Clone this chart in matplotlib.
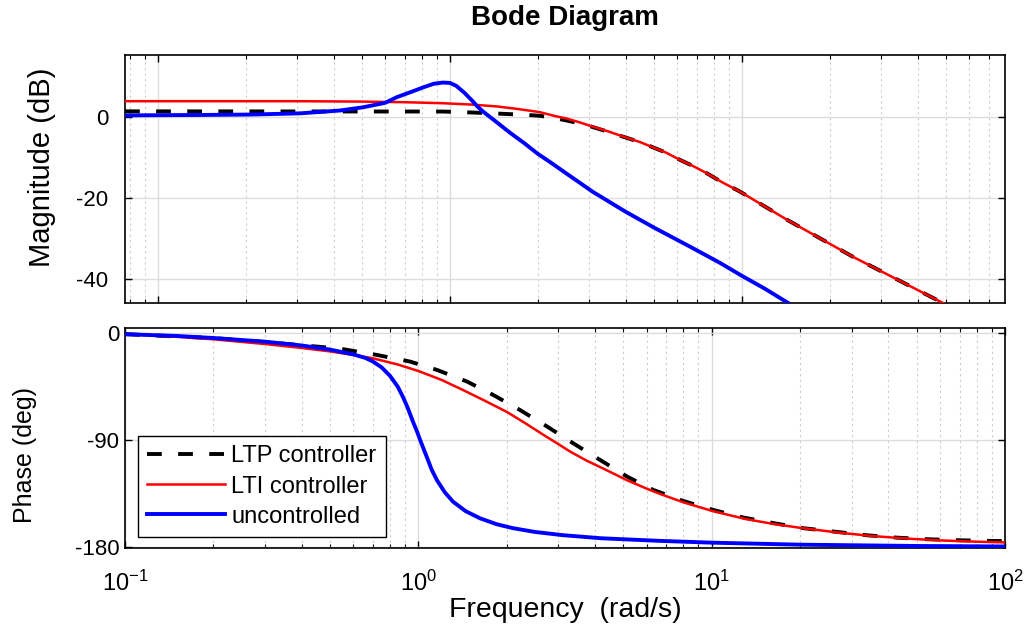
import numpy as np
import matplotlib
matplotlib.use("Agg")
import matplotlib.pyplot as plt

plt.rcParams['font.family'] = ['Liberation Sans', 'DejaVu Sans']
plt.rcParams['axes.unicode_minus'] = False
plt.rcParams['mathtext.fontset'] = 'custom'
plt.rcParams['mathtext.rm'] = 'Liberation Sans'

# magnitude (dB) vs frequency (rad/s)
w_mag_unc = [0.0771, 0.139, 0.2065, 0.306, 0.42, 0.504, 0.6, 0.658, 0.75, 0.809, 0.88,
             0.946, 1.0, 1.05, 1.12, 1.2, 1.237, 1.3, 1.4, 1.5, 1.6, 1.8, 2.0, 2.2,
             2.5, 3.09, 4.0, 5.0, 6.64, 8.41, 10.0, 12.0, 14.4]
mag_unc = [0.3, 0.4, 0.5, 0.8, 1.5, 2.3, 3.4, 4.8, 6.3, 7.2, 8.1,
           8.4, 8.3, 7.6, 5.9, 3.7, 2.6, 1.2, -0.6, -2.3, -3.9, -6.6, -9.2, -11.2,
           -14.0, -18.6, -23.5, -27.4, -32.1, -36.1, -39.3, -42.5, -46.0]

w_mag_lti = [0.0771, 0.3, 0.5, 0.7, 0.946, 1.2, 1.449, 1.7, 2.03, 2.3, 2.52, 2.8,
             3.09, 3.5, 3.91, 4.48, 4.96, 5.5, 6.14, 6.8, 7.59, 8.5, 9.84, 14.3,
             24.0, 48.8]
mag_lti = [3.8, 3.8, 3.7, 3.55, 3.3, 2.95, 2.5, 1.9, 1.1, 0.1, -0.5, -1.5,
           -2.5, -3.7, -4.9, -6.3, -7.6, -8.9, -10.7, -12.2, -14.0, -16.1, -18.5, -25.5,
           -34.6, -46.0]

w_mag_ltp = [0.0771, 0.946, 1.2, 1.5, 1.8, 2.03, 2.3, 2.52, 2.8, 3.09, 3.5, 3.91,
             4.48, 4.96, 5.5, 6.14, 6.8, 7.59, 8.5, 9.84, 14.3, 24.0, 48.8]
mag_ltp = [1.3, 1.25, 1.0, 0.7, 0.45, 0.2, -0.4, -1.0, -1.7, -2.6, -3.8, -4.95,
           -6.3, -7.6, -8.9, -10.7, -12.2, -14.0, -16.1, -18.5, -25.5, -34.6, -46.0]

# phase (deg) vs frequency (rad/s)
w_ph_unc = [0.1, 0.15, 0.2, 0.3, 0.4, 0.5, 0.6, 0.66, 0.7, 0.75, 0.8, 0.85, 0.887,
            0.92, 0.96, 0.99, 1.014, 1.04, 1.071, 1.11, 1.158, 1.23, 1.313, 1.45,
            1.623, 1.85, 2.1, 2.5, 3.11, 4.2, 6.67, 10.0, 20.0, 50.0, 100.0]
ph_unc = [-1, -2.5, -4.2, -7.3, -10.5, -14, -18, -21, -24, -29, -36, -45, -54,
          -63, -75, -83, -90, -97, -105, -115, -124, -134, -142, -150,
          -156, -161, -164.3, -167.5, -170.2, -172.8, -175, -176.5, -178.2, -179.3, -179.7]

w_ph_lti = [0.1, 0.15, 0.2, 0.3, 0.4, 0.5, 0.6, 0.7, 0.85, 1.0, 1.2, 1.42, 1.7,
            2.005, 2.3, 2.66, 3.0, 3.29, 3.75, 4.26, 5.15, 6.0, 6.67, 8.0, 10.1,
            13.0, 16.0, 20.0, 27.0, 35.5, 48.0, 60.1, 80.0, 100.0]
ph_lti = [-0.8, -3.2, -5.3, -9.3, -12.6, -15.5, -18.5, -21.3, -26.5, -32, -39.5, -48, -57.5,
          -66.5, -75.5, -85.5, -93.5, -99.8, -107.5, -114, -124, -131, -135.5, -142.5, -150,
          -156.5, -160.5, -164, -168, -171, -173.3, -174.6, -175.7, -176.3]

w_ph_ltp = [0.1, 0.2, 0.305, 0.4, 0.541, 0.723, 0.938, 1.158, 1.466, 1.798, 2.22,
            2.75, 3.37, 4.16, 5.15, 6.31, 7.98, 10.1, 12.8, 16.2, 20.5, 26.8, 33.9,
            42.9, 54.2, 70.3, 88.9, 100.0]
ph_ltp = [-1, -4.3, -7.8, -10.3, -13.2, -18.5, -24.1, -31.1, -40.9, -52.1, -64.8,
          -78.8, -92.8, -106.8, -120.9, -132, -141.3, -148.9, -155.3, -160, -164.3, -167.5, -170.3,
          -172.3, -173.6, -174.5, -175, -175.2]

labels = ['LTP controller', 'LTI controller', 'uncontrolled']

W, H = 1032, 633
fig = plt.figure(figsize=(W / 100, H / 100), dpi=100)
ax1 = fig.add_axes([125 / W, 1 - 303 / H, 880 / W, 248 / H])
ax2 = fig.add_axes([125 / W, 1 - 548 / H, 880 / W, 220 / H])

dash = (3.8, 4.2)
ax1.plot(w_mag_ltp, mag_ltp, color='k', lw=2.8, dashes=dash, zorder=2)
ax1.plot(w_mag_lti, mag_lti, color='#ff0000', lw=1.8, zorder=3)
ax1.plot(w_mag_unc, mag_unc, color='#0000ff', lw=2.8, zorder=4)

ax2.plot(w_ph_ltp, ph_ltp, color='k', lw=2.8, dashes=dash, zorder=2, label=labels[0])
ax2.plot(w_ph_lti, ph_lti, color='#ff0000', lw=1.8, zorder=3, label=labels[1])
ax2.plot(w_ph_unc, ph_unc, color='#0000ff', lw=2.8, zorder=4, label=labels[2])

ax1.set_xscale('log')
ax2.set_xscale('log')
ax1.set_xlim(0.0771, 79.6)
ax1.set_ylim(-46, 15.2)
ax2.set_xlim(0.1, 100)
ax2.set_ylim(-181, 4.2)
ax1.set_yticks([-40, -20, 0])
ax2.set_yticks([-180, -90, 0])

for ax in (ax1, ax2):
    ax.grid(which='major', color='#dcdcdc', lw=1.0, ls='-')
    ax.grid(which='minor', axis='x', color='#cdcdcd', lw=0.8, ls=(0, (2, 3)))
    ax.tick_params(which='both', direction='in', top=True, right=True)
    ax.tick_params(which='major', length=5, width=1)
    ax.tick_params(which='minor', length=3, width=0.8)
    for s in ax.spines.values():
        s.set_linewidth(1.2)
    ax.set_axisbelow(True)

ax1.tick_params(labelbottom=False)
ax1.tick_params(axis='y', labelsize=16, pad=12)
ax2.tick_params(axis='y', labelsize=16, pad=4)
ax2.tick_params(axis='x', labelsize=17, pad=16)

leg = ax2.legend(loc='lower left', bbox_to_anchor=(0.0148, 0.05), borderaxespad=0,
                 fontsize=17, handlelength=3.3, labelspacing=0.34, handletextpad=0.25,
                 fancybox=False, framealpha=1, edgecolor='k', borderpad=0.4)
leg.get_frame().set_linewidth(1.0)

fig.text(565 / W, 1 - 18 / H, 'Bode Diagram', ha='center', va='center',
         fontsize=20, fontweight='bold')
fig.text(565 / W, 1 - 610 / H, 'Frequency  (rad/s)', ha='center', va='center', fontsize=20.5)
fig.text(42 / W, 1 - 167 / H, 'Magnitude (dB)', ha='center', va='center',
         rotation=90, fontsize=21)
fig.text(25 / W, 1 - 455 / H, 'Phase (deg)', ha='center', va='center',
         rotation=90, fontsize=18)

fig.savefig('out.png', dpi=100)
